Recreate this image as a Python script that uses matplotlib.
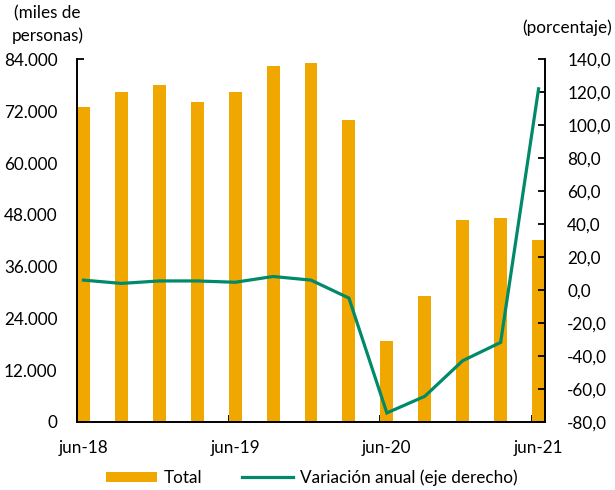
import numpy as np
import matplotlib
matplotlib.use("Agg")
import matplotlib.pyplot as plt
from matplotlib.ticker import FixedLocator, FuncFormatter

plt.rcParams['font.family'] = ['Lato', 'DejaVu Sans']

# datos trimestrales jun-18 .. jun-21
trimestres = ['jun-18', 'sep-18', 'dic-18', 'mar-19', 'jun-19', 'sep-19', 'dic-19',
              'mar-20', 'jun-20', 'sep-20', 'dic-20', 'mar-21', 'jun-21']
total = [73100, 76400, 78200, 74100, 76400, 82400, 83200,
         69900, 18700, 29300, 46800, 47300, 42200]
variacion = [6.1, 4.1, 5.6, 5.6, 4.8, 8.3, 6.1,
             -4.8, -74.5, -64.4, -42.8, -31.7, 122.2]
etiquetas_x = ['jun-18', 'jun-19', 'jun-20', 'jun-21']

naranja = '#F0A800'
verde = '#008A6A'
fs = 12.3

fig = plt.figure(figsize=(6.15, 4.9), dpi=100)
ax = fig.add_axes([0.1252, 0.1388, 0.7610, 0.7398])
ax2 = ax.twinx()

x = np.arange(len(trimestres))
ancho = 0.34
ax.bar(x, total, width=ancho, align='edge', color=naranja, zorder=2, label='Total')
ax2.plot(x + ancho / 2, variacion, color=verde, lw=2.3, solid_joinstyle='miter',
         label='Variación anual (eje derecho)')

ax.set_xlim(0, len(trimestres) - 1 + ancho)
ax.set_ylim(0, 84000)
ax2.set_ylim(-80, 140)

ax.set_yticks(np.arange(0, 84001, 12000))
ax.yaxis.set_major_formatter(FuncFormatter(lambda v, p: f"{int(v):,}".replace(',', '.')))
ax2.set_yticks(np.arange(-80, 141, 20))
ax2.yaxis.set_major_formatter(FuncFormatter(lambda v, p: f"{v:.1f}".replace('.', ',')))

# etiquetas centradas en las barras, marcas en el borde izquierdo
idx = [trimestres.index(t) for t in etiquetas_x]
ax.set_xticks([i + ancho / 2 for i in idx])
ax.set_xticklabels(etiquetas_x)
ax.xaxis.set_minor_locator(FixedLocator(idx))
ax.tick_params(axis='x', which='major', length=0, pad=13, labelsize=fs)
ax.tick_params(axis='x', which='minor', direction='in', length=5, width=1.3)

ax.tick_params(axis='y', direction='in', length=5, width=1.3, pad=14, labelsize=fs)
ax2.tick_params(axis='y', direction='in', length=5, width=1.3, pad=16, labelsize=fs)

for a in (ax, ax2):
    a.spines['top'].set_visible(False)
    for s in ('left', 'right', 'bottom'):
        a.spines[s].set_linewidth(1.4)
ax.spines['right'].set_visible(False)
ax2.spines['left'].set_visible(False)
ax2.spines['bottom'].set_visible(False)

fig.text(0.077, 0.95, '(miles de\npersonas)', ha='center', va='center',
         fontsize=fs, linespacing=1.45)
fig.text(0.995, 0.943, '(porcentaje)', ha='right', va='center', fontsize=fs)

h1, l1 = ax.get_legend_handles_labels()
h2, l2 = ax2.get_legend_handles_labels()
fig.legend(h1 + h2, l1 + l2, loc='center', bbox_to_anchor=(0.507, 0.025), ncol=2,
           frameon=False, fontsize=fs, handlelength=3.0, handleheight=0.6,
           columnspacing=2.3, handletextpad=0.4)

fig.savefig('out.png', dpi=100)
